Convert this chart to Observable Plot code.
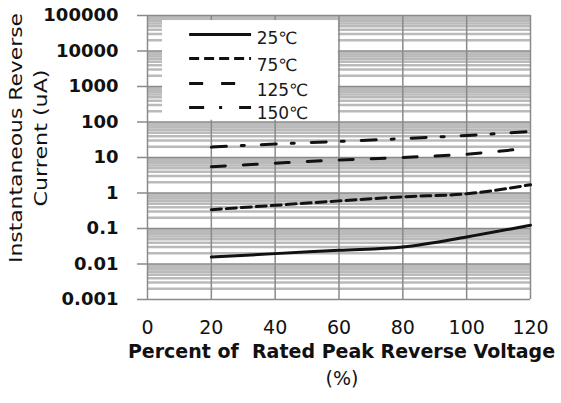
<!DOCTYPE html>
<html><head><meta charset="utf-8">
<script src="https://cdn.jsdelivr.net/npm/d3@7"></script>
<script src="https://cdn.jsdelivr.net/npm/@observablehq/plot@0.6"></script>
<style>body{margin:0;background:#fff} svg{display:block}</style>
</head><body><div id="chart"></div>
<script>
// ---- data ----
const pct = [20, 40, 60, 80, 100, 120];
const i25 = [0.0157, 0.0196, 0.0243, 0.0301, 0.0578, 0.124];
const i75 = [0.34, 0.45, 0.60, 0.78, 0.95, 1.71];
const i125 = [5.5, 6.9, 8.5, 10.0, 12.4, 18.6];
const i150 = [19.6, 24.0, 28.3, 34.0, 41.7, 54.0];
const seriesNames = ["25℃", "75℃", "125℃", "150℃"];
const xTicks = [0, 20, 40, 60, 80, 100, 120];
const yTicks = [0.001, 0.01, 0.1, 1, 10, 100, 1000, 10000, 100000];
const yTickLabels = ["0.001", "0.01", "0.1", "1", "10", "100", "1000", "10000", "100000"];
const yTitle = ["Instantaneous Reverse", "Current (uA)"];
const xTitle = ["Percent of  Rated Peak Reverse Voltage", "(%)"];

// ---- styles / layout ----
const dashes = [null, "10,5", "14,18", "15,15,3,17"];
const seriesValues = [i25, i75, i125, i150];
const legendLayout = {x1: 13.2, x2: 32.6, tx: 34.2, box: {x1: 4.7, x2: 59.8, y1: 112, y2: 72000},
  lineY: [29200, 6150, 1216, 256], textY: [22500, 3900, 771, 173]};

const minor = [];
for (let k = 0; k < yTicks.length - 1; k++) for (let m = 2; m <= 9; m++) minor.push(m * yTicks[k]);

const lineMarks = seriesValues.map((vals, i) =>
  Plot.line(pct.map((p, j) => ({p, v: vals[j]})), {x: "p", y: "v", stroke: "#111", strokeWidth: 3,
    strokeDasharray: dashes[i], curve: "monotone-x"}));

const legendMarks = seriesNames.flatMap((name, i) => [
  Plot.ruleY([legendLayout.lineY[i]], {x1: legendLayout.x1, x2: legendLayout.x2, stroke: "#111", strokeWidth: 3, strokeDasharray: dashes[i]}),
  Plot.text([name], {x: legendLayout.tx, y: legendLayout.textY[i], text: d => d, textAnchor: "start", fontSize: 17, fill: "#1a1a1a"})
]);

const lab = new Map(yTicks.map((t, i) => [t, yTickLabels[i]]));

const chart = Plot.plot({
  width: 561, height: 403,
  marginTop: 15, marginRight: 31, marginBottom: 104, marginLeft: 147,
  style: {fontFamily: "DejaVu Sans", background: "#fff", color: "#111"},
  x: {domain: [0, 120]},
  y: {type: "log", domain: [0.001, 100000]},
  marks: [
    Plot.ruleY(minor, {stroke: "#bababa", strokeWidth: 2.5}),
    Plot.ruleY(yTicks, {stroke: "#8a8a8a", strokeWidth: 1.5}),
    Plot.ruleX(xTicks, {stroke: "#8a8a8a", strokeWidth: 1.5}),
    Plot.rect([legendLayout.box], {x1: "x1", x2: "x2", y1: "y1", y2: "y2", fill: "white"}),
    ...lineMarks,
    ...legendMarks,
    Plot.axisY(yTicks, {tickSize: 10, tickPadding: 19, stroke: "#8a8a8a", strokeWidth: 1.5, fill: "#111",
      fontSize: 18, fontWeight: "bold", tickFormat: d => lab.get(d), label: null}),
    Plot.axisX(xTicks, {tickSize: 0, tickPadding: 21, fontSize: 19, fill: "#111", label: null}),
    Plot.text([xTitle[0]], {frameAnchor: "bottom", dx: 2.5, dy: 58, text: d => d, fontSize: 19, fontWeight: "bold", fill: "#111"}),
    Plot.text([xTitle[1]], {frameAnchor: "bottom", dx: 3, dy: 85, text: d => d, fontSize: 19, fill: "#111"})
  ]
});
document.getElementById("chart").appendChild(chart);

// rotated y-axis title (two lines)
const svg = d3.select(chart);
const yTitlePos = [{x: 15, len: 250}, {x: 40, len: 137}];
yTitle.forEach((t, i) => {
  svg.append("text")
    .attr("transform", `translate(${yTitlePos[i].x},138) rotate(-90)`)
    .attr("text-anchor", "middle")
    .attr("dominant-baseline", "central")
    .attr("font-family", "DejaVu Sans")
    .attr("font-size", 18)
    .attr("fill", "#111")
    .attr("textLength", yTitlePos[i].len)
    .attr("lengthAdjust", "spacingAndGlyphs")
    .text(t);
});
</script>
</body></html>
